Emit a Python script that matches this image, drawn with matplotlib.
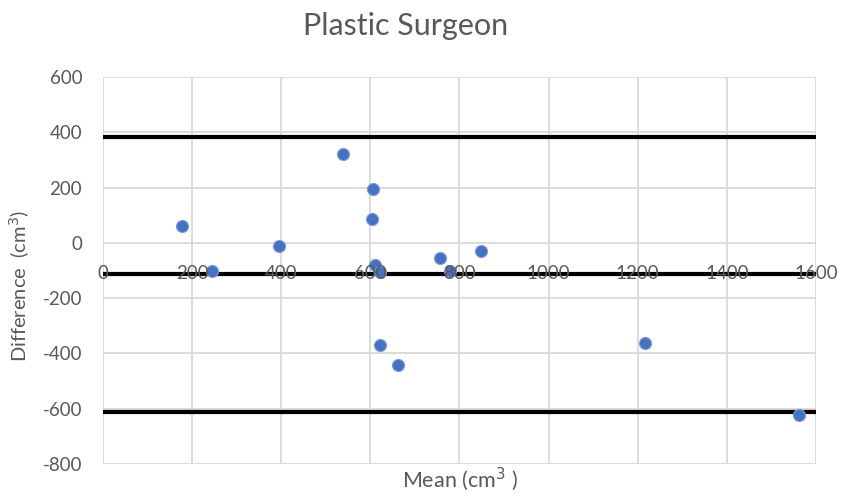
import matplotlib.pyplot as plt

plt.rcParams['font.family'] = ['Lato', 'DejaVu Sans']
plt.rcParams['axes.unicode_minus'] = False

# Bland-Altman data
mean_vals = [177, 244, 394, 538, 605, 604, 611, 622, 756, 779, 848, 622, 661, 1217, 1561]
diff_vals = [61, -103, -11, 321, 196, 87, -79, -106, -55, -103, -29, -371, -442, -361, -622]

bias = -112
upper_loa = 384
lower_loa = -612

x_ticks = [0, 200, 400, 600, 800, 1000, 1200, 1400, 1600]
y_ticks = [600, 400, 200, 0, -200, -400, -600, -800]

gray = '#595959'

fig = plt.figure(figsize=(8.42, 5), dpi=100)
ax = fig.add_axes([0.1223, 0.072, 0.8467, 0.774])

ax.set_xlim(0, 1600)
ax.set_ylim(-800, 600)
ax.set_xticks(x_ticks)
ax.set_yticks(y_ticks)
ax.grid(True, color='#d9d9d9', lw=1.3)
ax.set_axisbelow(True)
for s in ax.spines.values():
    s.set_visible(False)

# limits of agreement and bias
for yv in [upper_loa, bias, lower_loa]:
    ax.axhline(yv, color='black', lw=3, zorder=2)

ax.scatter(mean_vals, diff_vals, s=75, color='#4472C4', edgecolor='#7d9bd6',
           linewidth=0.8, zorder=3)

# y tick labels
ax.tick_params(axis='y', length=0, labelsize=13.5, labelcolor=gray, pad=15)
# x tick labels sit on the bias line (Excel axis crossing)
ax.tick_params(axis='x', length=0, labelbottom=False)
for xv in x_ticks:
    ax.text(xv, bias, str(xv), ha='center', va='center', fontsize=13.5,
            color=gray, zorder=4)

ax.set_ylabel('Difference  (cm$^3$)', fontsize=14.5, color=gray)
ax.yaxis.set_label_coords(-0.1, 0.46)
ax.set_xlabel('Mean (cm$^3$ )', fontsize=15.5, color=gray, labelpad=1)
fig.text(0.482, 0.948, 'Plastic Surgeon', ha='center', va='center',
         fontsize=22, color=gray)

fig.savefig('out.png', dpi=100)
